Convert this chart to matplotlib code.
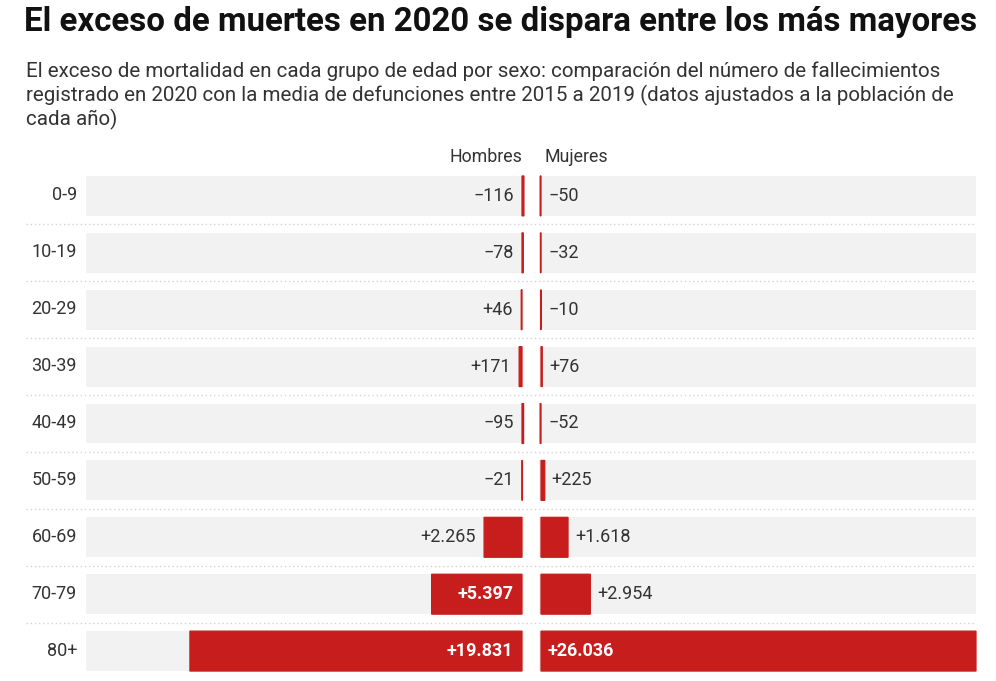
import matplotlib.pyplot as plt
import matplotlib
matplotlib.rcParams['font.family'] = ['Roboto', 'DejaVu Sans']

ages = ['0-9', '10-19', '20-29', '30-39', '40-49', '50-59', '60-69', '70-79', '80+']
hombres = [-116, -78, 46, 171, -95, -21, 2265, 5397, 19831]
mujeres = [-50, -32, -10, 76, -52, 225, 1618, 2954, 26036]

titulo = 'El exceso de muertes en 2020 se dispara entre los más mayores'
subtitulo = ('El exceso de mortalidad en cada grupo de edad por sexo: comparación del número de fallecimientos\n'
             'registrado en 2020 con la media de defunciones entre 2015 a 2019 (datos ajustados a la población de\n'
             'cada año)')

RED = '#c71e1d'
BAND = '#f2f2f2'
TXT = '#333333'
W, H = 996, 681
xmax = max(max(hombres), max(mujeres))


def fmt(v):
    s = '{:,}'.format(abs(v)).replace(',', '.')
    return ('+' if v >= 0 else '\u2212') + s


fig = plt.figure(figsize=(W / 100, H / 100), dpi=100)

# fondo con coordenadas en pixeles
bg = fig.add_axes([0, 0, 1, 1])
bg.set_xlim(0, W)
bg.set_ylim(H, 0)
bg.axis('off')

bg.text(24, 22, titulo, fontsize=23.8, fontweight='bold', color='#111111', va='center', ha='left')
bg.text(26, 96, subtitulo, fontsize=14.8, color=TXT, va='center', ha='left', linespacing=1.22)
bg.text(522, 157, 'Hombres', fontsize=12.8, color=TXT, ha='right', va='center')
bg.text(544, 157, 'Mujeres', fontsize=12.8, color=TXT, ha='left', va='center')

top, pitch = 195, 57
for i, a in enumerate(ages):
    yc = top + pitch * i
    bg.text(77, yc, a, fontsize=13, color=TXT, ha='right', va='center')
    if i < len(ages) - 1:
        bg.plot([26, 976], [yc + 28.5, yc + 28.5], color='#d4d4d4', lw=1, ls=(0, (1, 2)))


def px2fig(x0, x1, y0, y1):
    return [x0 / W, 1 - y1 / H, (x1 - x0) / W, (y1 - y0) / H]


y_rows = list(range(len(ages)))
band_h = 40 / pitch

# Hombres crece hacia la izquierda, Mujeres hacia la derecha
axh = fig.add_axes(px2fig(86, 522, 176, 671))
axm = fig.add_axes(px2fig(541, 976, 176, 671))

for ax, vals, side in [(axh, hombres, -1), (axm, mujeres, 1)]:
    ax.set_xlim(0, xmax)
    ax.set_ylim(len(ages) - 1 + 0.35, -0.35)
    if side < 0:
        ax.invert_xaxis()
    ax.axis('off')
    ax.barh(y_rows, [xmax * 1.004] * len(ages), left=[-xmax * 0.004] * len(ages),
            height=band_h, color=BAND, clip_on=False, zorder=1)
    bars = ax.barh(y_rows, vals, height=band_h, color=RED, edgecolor=RED, linewidth=0.9,
                   clip_on=False, zorder=2)
    for b in bars:
        b.set_snap(False)
    for i, v in enumerate(vals):
        if v > 4000:
            off = 7 if side > 0 else -9
            ax.annotate(fmt(v), (0, i), xytext=(off * 0.72, 0), textcoords='offset points',
                        ha='left' if side > 0 else 'right', va='center',
                        fontsize=13, fontweight='bold', color='white', zorder=3)
        else:
            off = 7 if side > 0 else -8
            ax.annotate(fmt(v), (max(v, 0), i), xytext=(off * 0.72, 0), textcoords='offset points',
                        ha='left' if side > 0 else 'right', va='center',
                        fontsize=13, color=TXT, zorder=3)

fig.savefig('out.png', dpi=100)
